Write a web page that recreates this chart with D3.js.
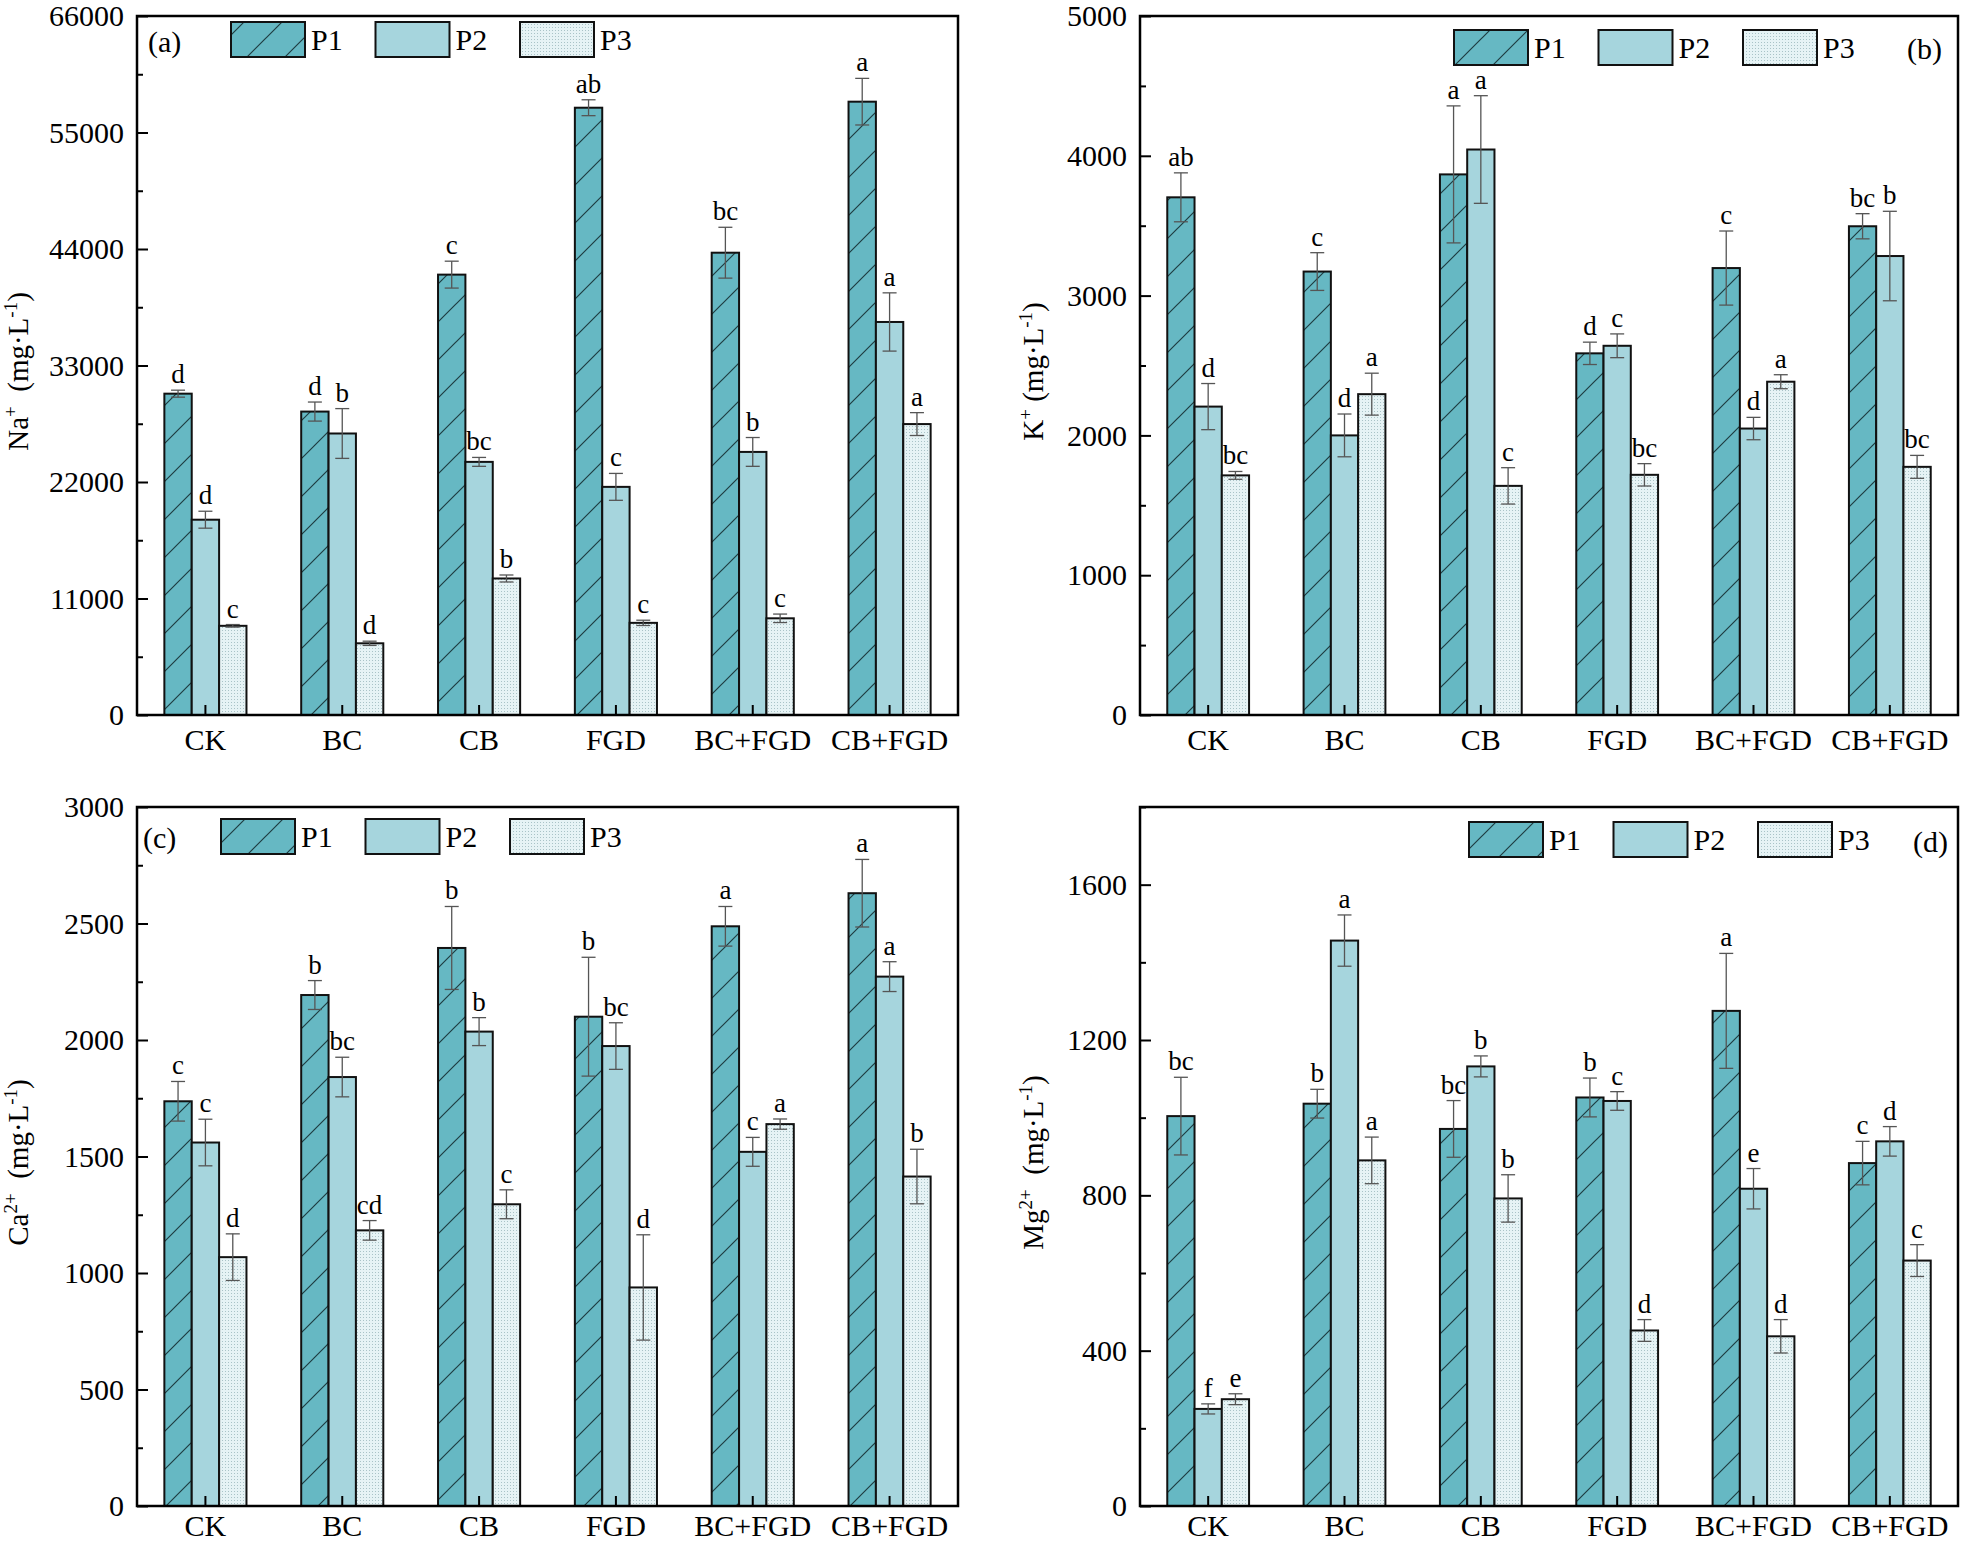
<!DOCTYPE html>
<html>
<head>
<meta charset="utf-8">
<script src="https://cdn.jsdelivr.net/npm/d3@7"></script>
<style>
  html, body { margin: 0; padding: 0; background: #fff; }
  svg text { font-family: "Liberation Serif", "Times New Roman", serif; fill: #000; }
</style>
</head>
<body>
<div id="chart"></div>
<script>
// treatments and sampling periods
var categories = ['CK', 'BC', 'CB', 'FGD', 'BC+FGD', 'CB+FGD'];
var periods    = ['P1', 'P2', 'P3'];

// Na+ (a)
var naTicks   = [0, 11000, 22000, 33000, 44000, 55000, 66000];
var naValues  = [[30340, 28650, 41580, 57340, 43650, 57910],
                 [18440, 26580, 23900, 21540, 24840, 37110],
                 [8420, 6770, 12890, 8700, 9130, 27470]];
var naErrors  = [[330, 900, 1270, 750, 2400, 2200],
                 [800, 2350, 420, 1270, 1360, 2750],
                 [120, 200, 330, 250, 400, 1080]];
var naLetters = [['d', 'd', 'c', 'ab', 'bc', 'a'],
                 ['d', 'b', 'bc', 'c', 'b', 'a'],
                 ['c', 'd', 'b', 'c', 'c', 'a']];

// K+ (b)
var kTicks   = [0, 1000, 2000, 3000, 4000, 5000];
var kValues  = [[3703, 3172, 3867, 2587, 3197, 3496],
                [2206, 2000, 4045, 2641, 2049, 3283],
                [1714, 2295, 1639, 1718, 2384, 1775]];
var kErrors  = [[175, 135, 490, 80, 265, 90],
                [165, 153, 385, 85, 80, 320],
                [28, 150, 130, 80, 50, 82]];
var kLetters = [['ab', 'c', 'a', 'd', 'c', 'bc'],
                ['d', 'd', 'a', 'c', 'd', 'b'],
                ['bc', 'a', 'c', 'bc', 'a', 'bc']];

// Ca2+ (c)
var caTicks   = [0, 500, 1000, 1500, 2000, 2500, 3000];
var caValues  = [[1737, 2193, 2395, 2100, 2488, 2630],
                 [1560, 1841, 2036, 1974, 1520, 2272],
                 [1068, 1183, 1295, 938, 1639, 1414]];
var caErrors  = [[85, 62, 178, 255, 85, 145],
                 [100, 85, 60, 100, 62, 64],
                 [100, 42, 62, 226, 22, 117]];
var caLetters = [['c', 'b', 'b', 'b', 'a', 'a'],
                 ['c', 'bc', 'b', 'bc', 'c', 'a'],
                 ['d', 'cd', 'c', 'd', 'a', 'b']];

// Mg2+ (d)
var mgTicks   = [0, 400, 800, 1200, 1600];
var mgValues  = [[1004, 1036, 971, 1052, 1275, 883],
                 [250, 1456, 1132, 1043, 817, 939],
                 [275, 890, 792, 452, 437, 632]];
var mgErrors  = [[100, 37, 73, 50, 148, 56],
                 [13, 66, 27, 24, 52, 38],
                 [14, 60, 61, 28, 43, 41]];
var mgLetters = [['bc', 'b', 'bc', 'b', 'a', 'c'],
                 ['f', 'a', 'b', 'c', 'e', 'd'],
                 ['e', 'a', 'b', 'd', 'd', 'c']];

var W = 1961, H = 1545;
var FILLS = ['url(#hatch)', '#a6d5dd', 'url(#dots)'];

var svg = d3.select('#chart').append('svg')
  .attr('width', W).attr('height', H)
  .attr('viewBox', '0 0 ' + W + ' ' + H);

// fill patterns
var defs = svg.append('defs');
var hatch = defs.append('pattern').attr('id', 'hatch')
  .attr('patternUnits', 'userSpaceOnUse').attr('width', 38).attr('height', 38);
hatch.append('rect').attr('width', 38).attr('height', 38).attr('fill', '#66b8c3');
hatch.append('path').attr('d', 'M-4,42 L42,-4 M-10,10 L10,-10 M28,48 L48,28')
  .attr('stroke', '#1d3c41').attr('stroke-width', 1.2);

var dots = defs.append('pattern').attr('id', 'dots')
  .attr('patternUnits', 'userSpaceOnUse').attr('width', 3).attr('height', 3);
dots.append('rect').attr('width', 3).attr('height', 3).attr('fill', '#e6f3f5');
dots.append('rect').attr('width', 1).attr('height', 1).attr('fill', '#a9c3c7');

var panels = [
  {tag: '(a)', values: naValues, errors: naErrors, letters: naLetters, ticks: naTicks,
   max: 66000, minorStep: 5500, ion: 'Na', charge: '+', gap: '\u00a0\u00a0',
   left: 137, right: 958, top: 16, bottom: 715, labelX: 28, xPad: 14,
   legendX: 231, legendY: 22, tagX: 148, tagY: 52},
  {tag: '(b)', values: kValues, errors: kErrors, letters: kLetters, ticks: kTicks,
   max: 5000, minorStep: 500, ion: 'K', charge: '+', gap: ' ',
   left: 1140, right: 1958, top: 16, bottom: 715, labelX: 1043, xPad: 14,
   legendX: 1454, legendY: 30, tagX: 1907, tagY: 59},
  {tag: '(c)', values: caValues, errors: caErrors, letters: caLetters, ticks: caTicks,
   max: 3000, minorStep: 250, ion: 'Ca', charge: '2+', gap: '\u00a0\u00a0',
   left: 137, right: 958, top: 807, bottom: 1506, labelX: 28, xPad: 9,
   legendX: 221, legendY: 819, tagX: 143, tagY: 848},
  {tag: '(d)', values: mgValues, errors: mgErrors, letters: mgLetters, ticks: mgTicks,
   max: 1800, minorStep: 200, ion: 'Mg', charge: '2+', gap: '\u00a0\u00a0',
   left: 1140, right: 1958, top: 807, bottom: 1506, labelX: 1043, xPad: 9,
   legendX: 1469, legendY: 822, tagX: 1913, tagY: 852}
];

panels.forEach(drawPanel);

function drawPanel(p) {
  var g = svg.append('g');

  var x = d3.scaleBand().domain(categories).range([p.left, p.right])
    .paddingInner(0.4).paddingOuter(0.2);
  var xs = d3.scaleBand().domain(periods).range([0, x.bandwidth()]);
  var y = d3.scaleLinear().domain([0, p.max]).range([p.bottom, p.top]);

  // bars, error bars, letters
  periods.forEach(function(per, si) {
    var rows = categories.map(function(c, ci) {
      return {cat: c, v: p.values[si][ci], e: p.errors[si][ci], l: p.letters[si][ci]};
    });
    var sg = g.append('g');
    sg.selectAll('rect').data(rows).enter().append('rect')
      .attr('x', function(d) { return x(d.cat) + xs(per); })
      .attr('y', function(d) { return y(d.v); })
      .attr('width', xs.bandwidth())
      .attr('height', function(d) { return y(0) - y(d.v); })
      .attr('fill', FILLS[si])
      .attr('stroke', '#111').attr('stroke-width', 2);

    var cx = function(d) { return x(d.cat) + xs(per) + xs.bandwidth() / 2; };
    var eb = sg.selectAll('g.err').data(rows).enter().append('g').attr('class', 'err')
      .attr('stroke', '#555').attr('stroke-width', 1.3);
    eb.append('line')
      .attr('x1', cx).attr('x2', cx)
      .attr('y1', function(d) { return y(d.v + d.e); })
      .attr('y2', function(d) { return y(d.v - d.e); });
    [1, -1].forEach(function(s) {
      eb.append('line')
        .attr('x1', function(d) { return cx(d) - 7; })
        .attr('x2', function(d) { return cx(d) + 7; })
        .attr('y1', function(d) { return y(d.v + s * d.e); })
        .attr('y2', function(d) { return y(d.v + s * d.e); });
    });
    sg.selectAll('text').data(rows).enter().append('text')
      .attr('x', cx)
      .attr('y', function(d) { return y(d.v + d.e) - 7; })
      .attr('text-anchor', 'middle')
      .style('font-size', '27px')
      .text(function(d) { return d.l; });
  });

  // axes with inward ticks
  var minors = d3.range(0, p.max + 1, p.minorStep).filter(function(v) {
    return p.ticks.indexOf(v) < 0;
  });
  var yMinor = g.append('g').attr('transform', 'translate(' + p.left + ',0)')
    .call(d3.axisLeft(y).tickValues(minors).tickSize(-6).tickFormat(''));
  var yAxis = g.append('g').attr('transform', 'translate(' + p.left + ',0)')
    .call(d3.axisLeft(y).tickValues(p.ticks).tickSize(-11).tickPadding(13)
      .tickFormat(d3.format('d')));
  var xAxis = g.append('g').attr('transform', 'translate(0,' + p.bottom + ')')
    .call(d3.axisBottom(x).tickSize(-10).tickPadding(p.xPad));

  [yMinor, yAxis, xAxis].forEach(function(a) {
    a.select('.domain').remove();
    a.selectAll('line').attr('stroke', '#000').attr('stroke-width', 2);
    a.selectAll('text').style('font-size', '30px')
      .style('font-family', '"Liberation Serif", serif');
  });

  // frame
  g.append('rect')
    .attr('x', p.left).attr('y', p.top)
    .attr('width', p.right - p.left).attr('height', p.bottom - p.top)
    .attr('fill', 'none').attr('stroke', '#000').attr('stroke-width', 2.5);

  // y label
  var midY = (p.top + p.bottom) / 2 + 6;
  var lab = g.append('text')
    .attr('transform', 'translate(' + p.labelX + ',' + midY + ') rotate(-90)')
    .attr('text-anchor', 'middle')
    .style('font-size', '29px');
  lab.append('tspan').text(p.ion);
  lab.append('tspan').attr('dy', -11).style('font-size', '19px').text(p.charge);
  lab.append('tspan').attr('dy', 11).text(p.gap + '(mg\u00b7L');
  lab.append('tspan').attr('dy', -11).style('font-size', '19px').text('-1');
  lab.append('tspan').attr('dy', 11).text(')');

  // legend
  var leg = g.append('g');
  periods.forEach(function(per, si) {
    var lx = p.legendX + si * 144.5;
    leg.append('rect')
      .attr('x', lx).attr('y', p.legendY).attr('width', 74).attr('height', 35)
      .attr('fill', FILLS[si]).attr('stroke', '#111').attr('stroke-width', 2);
    leg.append('text')
      .attr('x', lx + 80).attr('y', p.legendY + 28)
      .style('font-size', '30px')
      .text(per);
  });

  g.append('text')
    .attr('x', p.tagX).attr('y', p.tagY)
    .style('font-size', '30px')
    .text(p.tag);
}
</script>
</body>
</html>
